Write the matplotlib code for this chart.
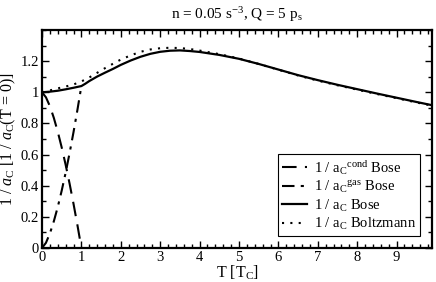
import numpy as np
import matplotlib
matplotlib.use('Agg')
import matplotlib.pyplot as plt
from matplotlib.ticker import MultipleLocator, FormatStrFormatter

plt.rcParams['font.family'] = 'Liberation Serif'
plt.rcParams['mathtext.fontset'] = 'custom'
plt.rcParams['mathtext.rm'] = 'Liberation Serif'
plt.rcParams['mathtext.it'] = 'Liberation Serif:italic'

# condensate / gas parts below T_C
t_low = [0, 0.1, 0.2, 0.3, 0.4, 0.5, 0.6, 0.7, 0.8, 0.9, 1.0]
cond = [1.0, 0.968, 0.911, 0.836, 0.747, 0.646, 0.535, 0.414, 0.284, 0.146, 0.0]
gas = [0.0, 0.033, 0.093, 0.171, 0.263, 0.368, 0.483, 0.609, 0.744, 0.888, 1.04]

# total curves
t = [0, 0.2, 0.4, 0.6, 0.8, 1.0, 1.1, 1.2, 1.4, 1.6, 1.8, 2.0, 2.25, 2.5, 2.75, 3.0,
     3.25, 3.5, 3.75, 4.0, 4.5, 5.0, 5.5, 6.0, 6.5, 7.0, 7.5, 8.0, 8.5, 9.0, 9.5, 9.9]
bose = [1.0, 1.004, 1.01, 1.019, 1.029, 1.04, 1.055, 1.072, 1.101, 1.126, 1.15, 1.176,
        1.204, 1.228, 1.247, 1.26, 1.267, 1.269, 1.265, 1.259, 1.24, 1.215, 1.182, 1.146,
        1.11, 1.078, 1.048, 1.02, 0.992, 0.965, 0.938, 0.917]
boltz = [1.0, 1.012, 1.025, 1.037, 1.05, 1.07, 1.082, 1.095, 1.125, 1.155, 1.183, 1.21,
         1.237, 1.26, 1.275, 1.283, 1.286, 1.284, 1.278, 1.268, 1.245, 1.217, 1.182, 1.145,
         1.108, 1.075, 1.045, 1.017, 0.989, 0.962, 0.935, 0.914]

fig = plt.figure(figsize=(4.36, 2.82), dpi=100)
ax = fig.add_axes([0.0963, 0.1206, 0.8947, 0.773])

ax.plot(t_low, cond, color='black', lw=1.5, ls=(0, (7, 4)),
        label=r'1 / a$_\mathrm{C}$$^\mathrm{cond}$ Bose')
ax.plot(t_low, gas, color='black', lw=1.5, ls=(0, (6, 3, 1.5, 3)),
        label=r'1 / a$_\mathrm{C}$$^\mathrm{gas}$ Bose')
ax.plot(t, bose, color='black', lw=1.6, label=r'1 / a$_\mathrm{C}$ Bose')
ax.plot(t, boltz, color='black', lw=1.5, ls=(0, (1, 3)),
        label=r'1 / a$_\mathrm{C}$ Boltzmann')

ax.set_xlim(0, 9.9)
ax.set_ylim(0, 1.4)
ax.xaxis.set_major_locator(MultipleLocator(1))
ax.xaxis.set_minor_locator(MultipleLocator(0.2))
ax.yaxis.set_major_locator(MultipleLocator(0.2))
ax.yaxis.set_minor_locator(MultipleLocator(0.1))
ax.yaxis.set_major_formatter(FormatStrFormatter('%g'))
ax.set_yticks([0, 0.2, 0.4, 0.6, 0.8, 1.0, 1.2])
ax.tick_params(which='both', direction='in', top=True, right=True, labelsize=10.5, pad=2)
ax.tick_params(which='major', length=5, width=1)
ax.tick_params(which='minor', length=3, width=1)
for s in ax.spines.values():
    s.set_linewidth(1.6)

ax.set_xlabel(r'T [T$_\mathrm{C}$]', fontsize=11.5, labelpad=0)
ax.set_ylabel(r'1 / $a_\mathrm{C}$ [1 / $a_\mathrm{C}$(T = 0)]', fontsize=11.5, labelpad=2)
ax.set_title(r'n = 0.05 s$^{-3}$, Q = 5 p$_\mathrm{s}$', fontsize=11, pad=8)

leg = ax.legend(loc='lower right', fontsize=10.5, fancybox=False, framealpha=1,
                edgecolor='black', handlelength=1.7, handletextpad=0.5,
                borderpad=0.3, borderaxespad=0.8, labelspacing=0.15)
leg.get_frame().set_linewidth(0.8)

fig.savefig('out.png', dpi=100)
